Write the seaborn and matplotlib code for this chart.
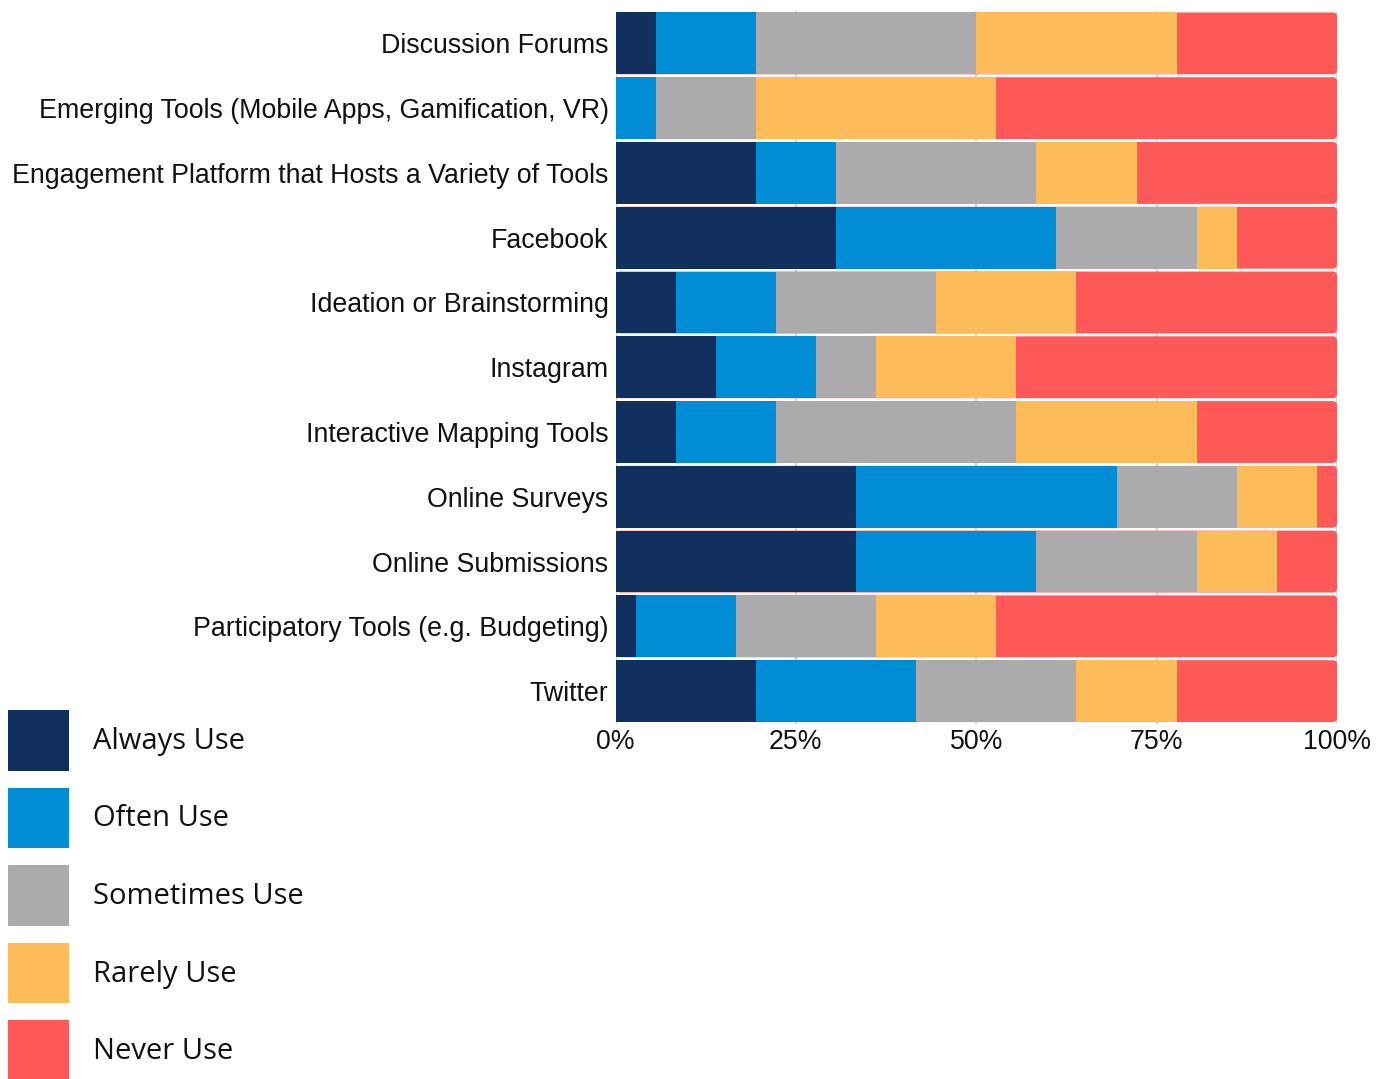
import matplotlib
matplotlib.use("Agg")
import matplotlib.pyplot as plt
from matplotlib.patches import Patch, FancyBboxPatch
import seaborn as sns
import pandas as pd
import numpy as np

categories = [
    "Discussion Forums",
    "Emerging Tools (Mobile Apps, Gamification, VR)",
    "Engagement Platform that Hosts a Variety of Tools",
    "Facebook",
    "Ideation or Brainstorming",
    "Instagram",
    "Interactive Mapping Tools",
    "Online Surveys",
    "Online Submissions",
    "Participatory Tools (e.g. Budgeting)",
    "Twitter",
]
levels = ["Always Use", "Often Use", "Sometimes Use", "Rarely Use", "Never Use"]
# response counts (36 respondents)
always_use    = [2, 0, 7, 11, 3, 5, 3, 12, 12, 1, 7]
often_use     = [5, 2, 4, 11, 5, 5, 5, 13, 9, 5, 8]
sometimes_use = [11, 5, 10, 7, 8, 3, 12, 6, 8, 7, 8]
rarely_use    = [10, 12, 5, 2, 7, 7, 9, 4, 4, 6, 5]
never_use     = [8, 17, 10, 5, 13, 16, 7, 1, 3, 17, 8]
tick_values = [0, 25, 50, 75, 100]
tick_labels = ["0%", "25%", "50%", "75%", "100%"]

colors = ["#11305e", "#008dd5", "#ababad", "#febb5a", "#fe5858"]

counts = np.array([always_use, often_use, sometimes_use, rarely_use, never_use], dtype=float)
pct = counts / counts.sum(axis=0) * 100
cum = np.cumsum(pct, axis=0)

rows = []
for li, lev in enumerate(levels):
    for ci, cat in enumerate(categories):
        rows.append({"category": cat, "level": lev, "cum": cum[li, ci]})
df = pd.DataFrame(rows)

sns.set_theme(style="white")
plt.rcParams["font.family"] = ["Liberation Sans", "DejaVu Sans"]

fig = plt.figure(figsize=(13.87, 10.79), dpi=100)
ax = fig.add_axes([615.5 / 1387, 1 - 723.5 / 1079, (1337 - 615.5) / 1387, (723.5 - 11) / 1079])

ax.set_axisbelow(True)
ax.grid(axis="x", color="#d6d6d6", linewidth=1.6)

for li in range(len(levels) - 1, -1, -1):
    sub = df[df["level"] == levels[li]]
    sns.barplot(data=sub, x="cum", y="category", order=categories, orient="h",
                color=colors[li], width=0.955, saturation=1, linewidth=0,
                ax=ax, zorder=2 + (4 - li))
    if li == len(levels) - 1:
        # round the right end of the full-width bars
        for p in list(ax.patches):
            x0, y0, w, h = p.get_x(), p.get_y(), p.get_width(), p.get_height()
            fb = FancyBboxPatch((x0, y0), w, h,
                                boxstyle="round,pad=0,rounding_size=0.6",
                                mutation_aspect=0.11,
                                facecolor=p.get_facecolor(), edgecolor="none",
                                linewidth=0, zorder=2)
            p.remove()
            ax.add_patch(fb)

ax.set_xlim(0, 100)
ax.set_ylim(len(categories) - 0.5, -0.5)
ax.set_xticks(tick_values)
ax.set_xticklabels(tick_labels, fontsize=19.2)
ax.tick_params(axis="y", labelsize=19.3, length=0, pad=5)
ax.tick_params(axis="x", length=0, pad=4)
ax.set_xlabel("")
ax.set_ylabel("")
for s in ax.spines.values():
    s.set_visible(False)
for t in ax.get_xticklabels() + ax.get_yticklabels():
    t.set_color("#111111")

handles = [Patch(facecolor=c, edgecolor="none", linewidth=0) for c in colors]
leg = fig.legend(handles, levels, loc="upper left",
                 bbox_to_anchor=(8 / 1387, 1 - 710 / 1079),
                 frameon=False, borderpad=0, borderaxespad=0,
                 handlelength=2.1, handleheight=2.82, handletextpad=0.8,
                 labelspacing=0.58,
                 prop={"family": ["Open Sans", "DejaVu Sans"], "size": 21})
for t in leg.get_texts():
    t.set_color("#111111")

fig.savefig("out.png", dpi=100)
